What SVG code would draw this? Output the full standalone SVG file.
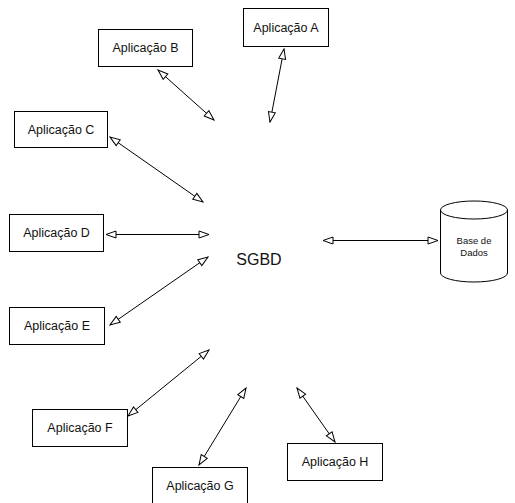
<svg xmlns="http://www.w3.org/2000/svg" width="515" height="503" viewBox="0 0 515 503">
  <style>
    .box { fill: #ffffff; stroke: #000000; stroke-width: 1; }
    .lbl { font-family: "Liberation Sans", Arial, sans-serif; font-size: 12.5px; fill: #111111; text-anchor: middle; }
    .small { font-family: "Liberation Sans", Arial, sans-serif; font-size: 9.5px; fill: #111111; text-anchor: middle; }
    .big { font-family: "Liberation Sans", Arial, sans-serif; font-size: 16px; fill: #111111; text-anchor: middle; }
    .link { stroke: #000000; stroke-width: 1; fill: none; marker-start: url(#head); marker-end: url(#head); }
  </style>
  <defs>
    <!-- open triangular arrowhead used at both ends of every connector -->
    <marker id="head" viewBox="0 0 12 10" refX="11" refY="5" markerWidth="12" markerHeight="10" markerUnits="userSpaceOnUse" orient="auto-start-reverse">
      <path d="M1,1.5 L11,5 L1,8.5 Z" fill="#ffffff" stroke="#000000" stroke-width="1"/>
    </marker>
  </defs>
  <rect width="515" height="503" fill="#ffffff"/>

  <g id="app-a"><rect class="box" x="243.5" y="8.5" width="85" height="38"/><text class="lbl" x="286" y="32">Aplicação A</text></g>
  <g id="app-b"><rect class="box" x="98.5" y="29.5" width="94" height="37"/><text class="lbl" x="145.5" y="52">Aplicação B</text></g>
  <g id="app-c"><rect class="box" x="14.5" y="111.5" width="93" height="36"/><text class="lbl" x="61" y="134">Aplicação C</text></g>
  <g id="app-d"><rect class="box" x="9.5" y="214.5" width="94" height="37"/><text class="lbl" x="56.5" y="237">Aplicação D</text></g>
  <g id="app-e"><rect class="box" x="9.5" y="307.5" width="95" height="37"/><text class="lbl" x="57" y="330">Aplicação E</text></g>
  <g id="app-f"><rect class="box" x="32.5" y="409.5" width="95" height="37"/><text class="lbl" x="80" y="432">Aplicação F</text></g>
  <g id="app-g"><rect class="box" x="152.5" y="467.5" width="95" height="40"/><text class="lbl" x="200" y="490">Aplicação G</text></g>
  <g id="app-h"><rect class="box" x="287.5" y="443.5" width="95" height="37"/><text class="lbl" x="335" y="466">Aplicação H</text></g>

  <g id="sgbd"><text class="big" x="259" y="265">SGBD</text></g>

  <g id="database">
    <path class="box" d="M440.5,210 L440.5,273 A33.5,9 0 0 0 507.5,273 L507.5,210 A33.5,9 0 0 0 440.5,210 Z"/>
    <path d="M440.5,210 A33.5,9 0 0 0 507.5,210" fill="none" stroke="#000000" stroke-width="1"/>
    <text class="small" x="474" y="244">Base de</text>
    <text class="small" x="474" y="256">Dados</text>
  </g>

  <g id="connectors">
    <line class="link" x1="270" y1="122" x2="284" y2="49"/>
    <line class="link" x1="214" y1="120" x2="158" y2="70"/>
    <line class="link" x1="203" y1="202" x2="110" y2="137"/>
    <line class="link" x1="209" y1="234.5" x2="106" y2="234.5"/>
    <line class="link" x1="208" y1="257" x2="110" y2="325"/>
    <line class="link" x1="209" y1="350" x2="128" y2="416"/>
    <line class="link" x1="246" y1="388" x2="199" y2="465"/>
    <line class="link" x1="297" y1="388" x2="335" y2="442"/>
    <line class="link" x1="323" y1="240.5" x2="438" y2="240.5"/>
  </g>
</svg>
